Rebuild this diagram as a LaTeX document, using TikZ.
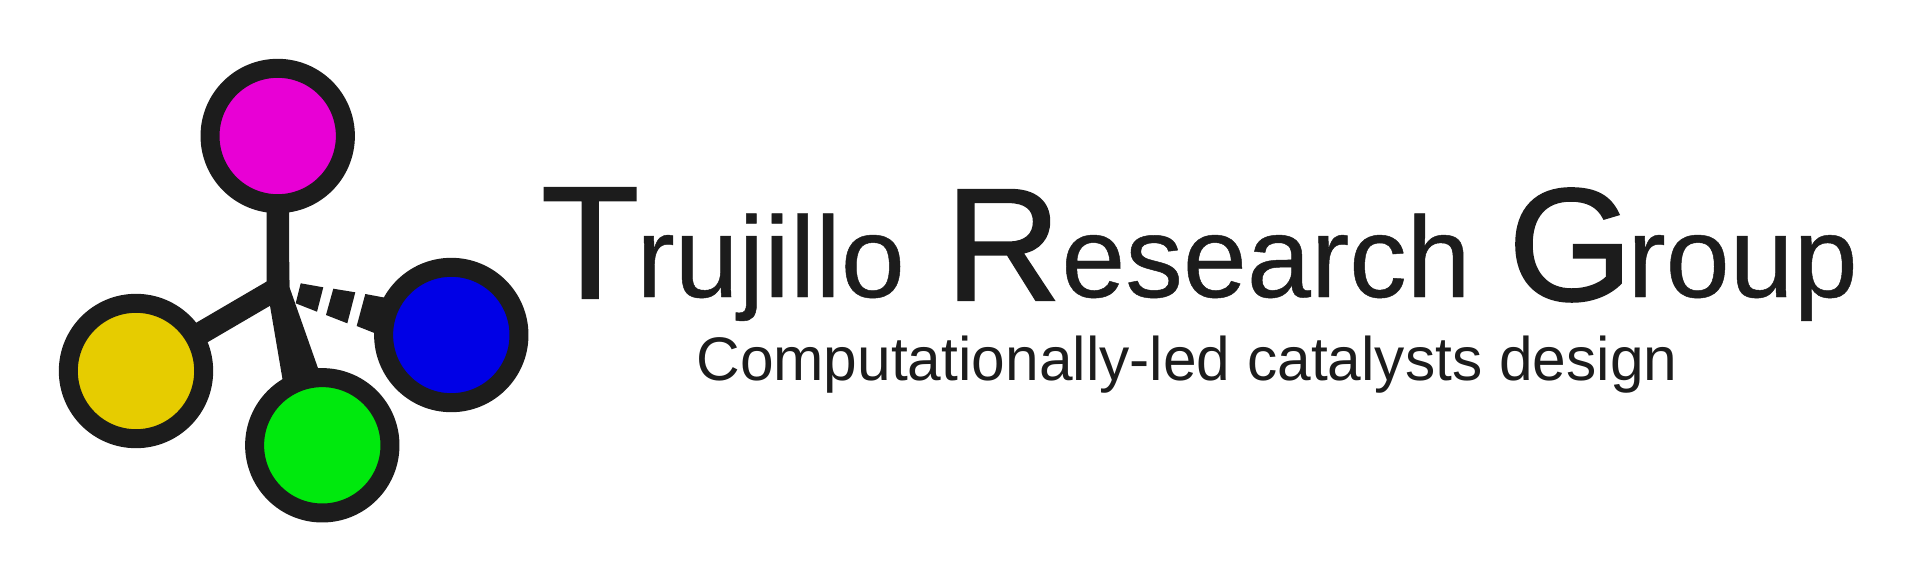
\documentclass[tikz,border=0pt]{standalone}
\usepackage{fontspec}
\setmainfont{Liberation Sans}
\newfontfamily\capfont[FakeBold=1.5]{Liberation Sans}
\newfontfamily\wordfont[FakeBold=0.4]{Liberation Sans}
\newfontfamily\tagfont[FakeStretch=0.983]{Liberation Sans}
\definecolor{ink}{HTML}{1C1C1C}
\definecolor{atomMagenta}{HTML}{E800D5}
\definecolor{atomYellow}{HTML}{E6CC00}
\definecolor{atomGreen}{HTML}{00E90D}
\definecolor{atomBlue}{HTML}{0000E6}
\tikzset{
  atom/.style={circle, draw=ink, line width=0.38cm, minimum size=2.708cm, inner sep=0pt, outer sep=0pt},
  bond/.style={draw=ink, line width=0.452cm},
  capital/.style={anchor=base west, inner sep=0pt, text=ink, font=\capfont\fontsize{91}{93}\selectfont},
  word/.style={anchor=base west, inner sep=0pt, text=ink, font=\wordfont\fontsize{65.5}{70}\selectfont},
}
\begin{document}
\begin{tikzpicture}[x=0.02cm, y=-0.02cm]
  \useasboundingbox (0,0) rectangle (1920,582);

  % Atoms
  \node[atom, fill=atomMagenta] (top) at (277.7,136) {};
  \node[atom, fill=atomYellow] (left) at (136,371) {};
  \node[atom, fill=atomGreen] (front) at (322.3,445.3) {};
  \node[atom, fill=atomBlue] (back) at (451.3,335) {};
  \coordinate (core) at (278,288);

  % Plain bonds
  \draw[bond] (core) -- (top);
  \draw[bond] (core) -- (left);

  % Wedge bond
  \fill[ink] (270,305.7) -- (272,280) -- (289.3,280) -- (289.3,286.7) -- (319.7,373) -- (283.5,385) -- cycle;

  % Hashed bond
  \fill[ink] (300.7,283.3) -- (323.3,287.3) -- (317,311.7) -- (295.7,303.3) -- cycle;
  \fill[ink] (333.3,288.7) -- (355.3,292.3) -- (347.3,323.3) -- (326,315) -- cycle;
  \fill[ink] (365.3,294) -- (392,299) -- (382,336) -- (356.7,326) -- cycle;

  % Title
  \node[capital] (capT) at (541,298) {T};
  \node[word] (wordT) at (636,297) {rujillo};
  \node[capital] (capR) at (945,300) {R};
  \node[word] (wordR) at (1061,297) {esearch};
  \node[capital] (capG) at (1508,300) {G};
  \node[word] (wordG) at (1627,297) {roup};

  % Subtitle
  \node[anchor=base west, inner sep=0pt, text=ink, font=\tagfont\fontsize{35}{37}\selectfont] (tagline) at (696,380) {Computationally-led catalysts design};
\end{tikzpicture}
\end{document}
